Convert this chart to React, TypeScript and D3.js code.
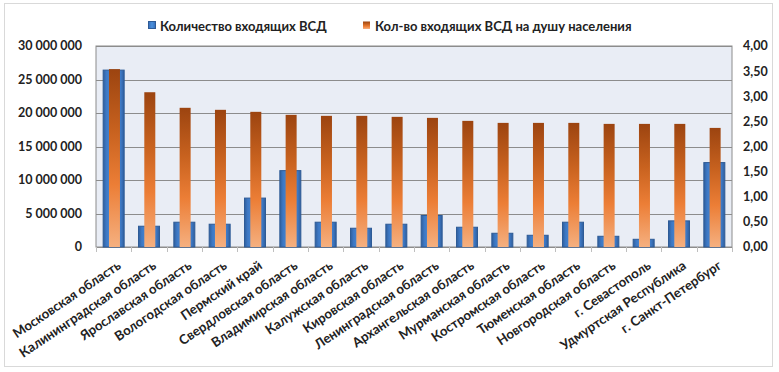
import React from "react";
import * as d3 from "d3";

const categories = [
  "Московская область",
  "Калининградская область",
  "Ярославская область",
  "Вологодская область",
  "Пермский край",
  "Свердловская область",
  "Владимирская область",
  "Калужская область",
  "Кировская область",
  "Ленинградская область",
  "Архангельская область",
  "Мурманская область",
  "Костромская область",
  "Тюменская область",
  "Новгородская область",
  "г. Севастополь",
  "Удмуртская Республика",
  "г. Санкт-Петербург",
];

const countValues = [
  26400000, 3100000, 3700000, 3400000, 7300000, 11400000, 3700000, 2800000, 3400000,
  4700000, 2950000, 2050000, 1750000, 3700000, 1600000, 1150000, 3900000, 12600000,
];

const perCapitaValues = [
  3.54, 3.08, 2.77, 2.73, 2.69, 2.63, 2.61, 2.61, 2.59, 2.57, 2.51, 2.47, 2.47, 2.47,
  2.45, 2.45, 2.45, 2.37,
];

const leftTicks = [0, 5000000, 10000000, 15000000, 20000000, 25000000, 30000000];
const rightTicks = [0, 0.5, 1, 1.5, 2, 2.5, 3, 3.5, 4];

const seriesNames = ["Количество входящих ВСД", "Кол-во входящих ВСД на душу населения"];

const W = 779;
const H = 372;
const plot = { left: 96, right: 732, top: 46, bottom: 247 };
const FONT = "Lato, 'Open Sans', sans-serif";

export default function App() {
  const x = d3
    .scaleBand<string>()
    .domain(categories)
    .range([plot.left, plot.right])
    .paddingInner(0)
    .paddingOuter(0);
  const yL = d3.scaleLinear().domain([0, 30000000]).range([plot.bottom, plot.top]);
  const yR = d3.scaleLinear().domain([0, 4]).range([plot.bottom, plot.top]);

  const fmtL = (v: number) => d3.format(",.0f")(v).replace(/,/g, " ");
  const fmtR = (v: number) => d3.format(".2f")(v).replace(".", ",");

  const bw = x.bandwidth();
  const blueW = 21;
  const orangeW = 11;

  return (
    <svg
      width={W}
      height={H}
      style={{ position: "absolute", left: 0, top: 0, background: "#fff" }}
      fontFamily={FONT}
    >
      <defs>
        <linearGradient id="blueGrad" x1="0" y1="0" x2="1" y2="0">
          <stop offset="0" stopColor="#2f5e9c" />
          <stop offset="0.15" stopColor="#3d78c4" />
          <stop offset="0.5" stopColor="#4a90dc" />
          <stop offset="0.85" stopColor="#3d78c4" />
          <stop offset="1" stopColor="#2f5e9c" />
        </linearGradient>
        <linearGradient id="orangeGrad" x1="0" y1="0" x2="0" y2="1">
          <stop offset="0" stopColor="#9c4410" />
          <stop offset="0.35" stopColor="#c8621f" />
          <stop offset="0.65" stopColor="#ec7e36" />
          <stop offset="1" stopColor="#f5b080" />
        </linearGradient>
      </defs>

      <rect x={4.5} y={3.5} width={768} height={363} fill="#fff" stroke="#d9d9d9" />

      {/* plot area */}
      <rect
        x={plot.left}
        y={plot.top}
        width={plot.right - plot.left}
        height={plot.bottom - plot.top}
        fill="#e9edf5"
        stroke="#8c8c8c"
      />
      {leftTicks.map((t) => (
        <line
          key={"g" + t}
          x1={plot.left}
          x2={plot.right}
          y1={Math.round(yL(t)) + 0.5}
          y2={Math.round(yL(t)) + 0.5}
          stroke="#8c8c8c"
          strokeWidth={1}
        />
      ))}

      {/* x-axis ticks */}
      {categories.concat([""]).map((c, i) => {
        const xx = Math.round(plot.left + i * bw) + 0.5;
        return (
          <line key={"t" + i} x1={xx} x2={xx} y1={plot.bottom} y2={plot.bottom + 5} stroke="#bfbfbf" />
        );
      })}

      {/* blue bars */}
      {categories.map((c, i) => {
        const cx = (x(c) as number) + bw / 2;
        const y0 = yL(countValues[i]);
        return (
          <rect
            key={"b" + i}
            x={cx - blueW / 2}
            y={y0}
            width={blueW}
            height={plot.bottom - y0}
            fill="url(#blueGrad)"
            stroke="#2e5b96"
            strokeWidth={1}
          />
        );
      })}

      {/* orange bars */}
      {categories.map((c, i) => {
        const cx = (x(c) as number) + bw / 2 + 0.8;
        const y0 = yR(perCapitaValues[i]);
        return (
          <rect
            key={"o" + i}
            x={cx - orangeW / 2}
            y={y0}
            width={orangeW}
            height={plot.bottom - y0}
            fill="url(#orangeGrad)"
          />
        );
      })}

      {/* left axis labels */}
      {leftTicks.map((t) => (
        <text
          key={"l" + t}
          x={82}
          y={yL(t)}
          dy="0.35em"
          textAnchor="end"
          fontSize={12.5}
          fontWeight="bold"
          fill="#222"
        >
          {fmtL(t)}
        </text>
      ))}

      {/* right axis labels */}
      {rightTicks.map((t) => (
        <text
          key={"r" + t}
          x={743}
          y={yR(t)}
          dy="0.35em"
          textAnchor="start"
          fontSize={12.5}
          fontWeight="bold"
          fill="#222"
        >
          {fmtR(t)}
        </text>
      ))}

      {/* category labels */}
      {categories.map((c) => {
        const cx = (x(c) as number) + bw / 2;
        return (
          <text
            key={"c" + c}
            transform={`translate(${cx + 3},${plot.bottom + 13}) rotate(-34)`}
            dy="0.7em"
            textAnchor="end"
            fontSize={13.2}
            fontWeight="bold"
            fill="#222"
          >
            {c}
          </text>
        );
      })}

      {/* legend */}
      <rect x={148.5} y={21.5} width={7} height={7} fill="url(#blueGrad)" stroke="#2e5b96" />
      <text x={160} y={26} dy="0.35em" fontSize={13} fontWeight="bold" fill="#222">
        {seriesNames[0]}
      </text>
      <rect x={363} y={21.5} width={7} height={7.5} fill="url(#orangeGrad)" />
      <text x={375} y={26} dy="0.35em" fontSize={13} fontWeight="bold" fill="#222">
        {seriesNames[1]}
      </text>
    </svg>
  );
}
